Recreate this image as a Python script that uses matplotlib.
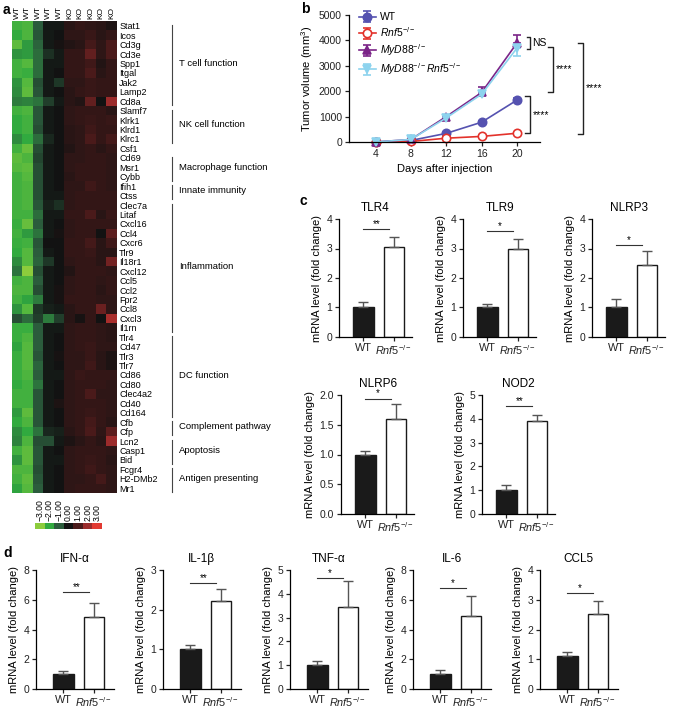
import numpy as np
import matplotlib
matplotlib.use("Agg")
import matplotlib.pyplot as plt
from matplotlib.colors import LinearSegmentedColormap

plt.rcParams["font.family"] = ["Liberation Sans", "DejaVu Sans"]
plt.rcParams["mathtext.fontset"] = "custom"
plt.rcParams["mathtext.rm"] = "Liberation Sans"
plt.rcParams["mathtext.it"] = "Liberation Sans:italic"
plt.rcParams["axes.linewidth"] = 0.9
plt.rcParams["xtick.major.width"] = 0.9
plt.rcParams["ytick.major.width"] = 0.9
plt.rcParams["xtick.major.size"] = 3
plt.rcParams["ytick.major.size"] = 3

# ---------------- panel a: heatmap ----------------
samples = ["WT"] * 5 + ["KO"] * 5
genes = ["Stat1", "Icos", "Cd3g", "Cd3e", "Spp1", "Itgal", "Jak2", "Lamp2", "Cd8a",
         "Slamf7", "Klrk1", "Klrd1", "Klrc1", "Csf1", "Cd69", "Msr1", "Cybb", "Ifih1",
         "Ctss", "Clec7a", "Litaf", "Cxcl16", "Ccl4", "Cxcr6", "Tlr9", "Il18r1", "Cxcl12",
         "Ccl5", "Ccl2", "Fpr2", "Ccl8", "Cxcl3", "Il1rn", "Tlr4", "Cd47", "Tlr3", "Tlr7",
         "Cd86", "Cd80", "Clec4a2", "Cd40", "Cd164", "Cfb", "Cfp", "Lcn2", "Casp1", "Bid",
         "Fcgr4", "H2-DMb2", "Mr1"]
expr = [
    [-2.2, -2.3, -1.0, -0.1, -0.1, 0.4, 0.6, 0.5, 0.4, 0.2],
    [-2.0, -2.3, -0.9, -0.1, 0.0, 0.5, 0.5, 0.7, 0.4, 0.6],
    [-2.5, -1.8, -1.1, -0.1, 0.1, 0.3, 0.4, 0.9, 0.5, 1.0],
    [-1.7, -1.8, -1.2, -0.4, -0.1, 0.6, 0.6, 1.3, 0.5, 1.0],
    [-2.2, -2.4, -1.2, -0.1, -0.1, 0.6, 0.6, 0.8, 0.3, 0.6],
    [-2.2, -2.1, -1.2, -0.1, 0.0, 0.6, 0.6, 1.0, 0.4, 0.6],
    [-1.7, -2.4, -0.8, -0.1, -0.5, 0.5, 0.5, 0.7, 0.6, 0.6],
    [-1.6, -2.5, -0.9, -0.1, 0.0, 0.4, 0.6, 0.7, 0.6, 0.6],
    [-1.4, -1.5, -1.3, -0.6, -0.1, 0.4, 0.3, 1.3, 0.0, 2.0],
    [-2.2, -2.3, -0.9, -0.1, 0.0, 0.5, 0.6, 0.6, 0.6, 0.4],
    [-2.0, -2.2, -0.9, -0.1, 0.0, 0.5, 0.6, 0.7, 0.6, 0.7],
    [-2.0, -2.2, -0.8, -0.1, 0.0, 0.4, 0.5, 0.8, 0.6, 0.6],
    [-1.6, -2.0, -1.2, -0.3, 0.0, 0.4, 0.5, 1.0, 0.6, 0.9],
    [-2.2, -2.6, -0.8, -0.1, 0.0, 0.3, 0.5, 0.6, 0.4, 0.6],
    [-2.5, -2.3, -0.7, -0.1, 0.0, 0.5, 0.5, 0.6, 0.6, 0.5],
    [-2.4, -2.5, -0.8, -0.1, 0.0, 0.5, 0.6, 0.6, 0.6, 0.5],
    [-2.2, -2.4, -0.8, -0.1, 0.0, 0.4, 0.6, 0.6, 0.6, 0.5],
    [-2.2, -2.3, -0.8, -0.1, 0.0, 0.5, 0.5, 0.8, 0.6, 0.5],
    [-2.2, -2.3, -0.8, -0.1, -0.1, 0.5, 0.6, 0.6, 0.6, 0.6],
    [-2.2, -2.3, -0.9, -0.2, -0.4, 0.5, 0.6, 0.6, 0.6, 0.6],
    [-2.2, -2.2, -1.2, -0.1, -0.1, 0.6, 0.6, 1.0, 0.4, 0.7],
    [-2.1, -2.6, -1.0, -0.1, 0.0, 0.5, 0.6, 0.6, 0.6, 0.6],
    [-2.2, -1.8, -1.3, -0.1, 0.1, 0.5, 0.6, 0.6, 0.0, 1.2],
    [-2.1, -2.2, -0.9, 0.0, 0.0, 0.6, 0.6, 0.9, 0.4, 0.8],
    [-2.0, -2.4, -1.0, -0.1, 0.0, 0.6, 0.6, 0.7, 0.4, 0.4],
    [-1.6, -2.4, -1.1, -0.5, 0.0, 0.5, 0.6, 0.6, 0.4, 1.5],
    [-1.3, -3.0, -0.8, -0.1, 0.0, 0.3, 0.6, 0.6, 0.6, 0.5],
    [-2.2, -2.3, -1.0, -0.1, 0.0, 0.5, 0.6, 0.6, 0.5, 0.6],
    [-2.3, -2.3, -0.8, -0.1, 0.1, 0.5, 0.6, 0.6, 0.4, 0.6],
    [-2.2, -1.9, -1.4, -0.1, 0.1, 0.6, 0.6, 0.6, 0.5, 0.5],
    [-1.7, -2.4, -0.5, -0.2, -0.1, 0.4, 0.6, 0.6, 1.4, 0.5],
    [-0.8, -1.2, -0.6, -1.4, -0.6, 0.4, 0.1, 0.6, 0.0, 2.2],
    [-2.1, -2.1, -1.0, -0.1, -0.1, 0.5, 0.6, 0.6, 0.5, 0.4],
    [-2.1, -2.3, -1.0, -0.1, 0.0, 0.5, 0.6, 0.6, 0.5, 0.4],
    [-1.9, -2.4, -1.0, -0.1, 0.0, 0.5, 0.6, 0.7, 0.5, 0.5],
    [-2.1, -2.4, -0.9, -0.1, 0.1, 0.5, 0.5, 0.7, 0.4, 0.2],
    [-2.1, -2.4, -1.1, -0.1, 0.0, 0.5, 0.5, 0.8, 0.4, 0.2],
    [-2.1, -2.3, -1.0, -0.1, -0.1, 0.5, 0.7, 0.6, 0.6, 0.6],
    [-2.0, -2.2, -1.3, -0.1, 0.0, 0.5, 0.6, 0.6, 0.6, 0.5],
    [-2.2, -2.2, -0.9, -0.1, 0.0, 0.5, 0.6, 1.0, 0.5, 0.5],
    [-2.2, -2.2, -0.9, -0.1, 0.2, 0.5, 0.6, 0.6, 0.6, 0.5],
    [-1.8, -2.5, -0.9, -0.1, 0.0, 0.5, 0.6, 0.7, 0.6, 0.5],
    [-2.0, -2.3, -0.9, -0.1, 0.0, 0.5, 0.6, 0.9, 0.6, 0.4],
    [-1.6, -2.0, -1.3, -0.3, -0.2, 0.4, 0.6, 1.0, 0.5, 1.2],
    [-1.5, -2.3, -0.8, -0.8, -0.1, 0.2, 0.4, 0.6, 0.4, 2.0],
    [-2.2, -2.5, -0.9, -0.1, 0.0, 0.5, 0.6, 0.6, 0.6, 0.5],
    [-1.7, -2.5, -0.9, -0.1, -0.1, 0.5, 0.6, 0.7, 0.6, 0.4],
    [-2.3, -2.3, -0.8, -0.1, 0.0, 0.5, 0.6, 0.8, 0.6, 0.5],
    [-2.2, -2.5, -0.9, -0.1, 0.0, 0.5, 0.5, 0.6, 0.9, 0.5],
    [-1.9, -2.4, -1.0, -0.1, 0.0, 0.5, 0.6, 0.6, 0.6, 0.5],
]
groups = [("T cell function", 0, 8), ("NK cell function", 9, 12),
          ("Macrophage function", 14, 16), ("Innate immunity", 17, 18),
          ("Inflammation", 19, 32), ("DC function", 33, 41),
          ("Complement pathway", 42, 43), ("Apoptosis", 44, 46),
          ("Antigen presenting", 47, 49)]
cbar_values = [-3, -2, -1, 0, 1, 2, 3]
cbar_colors = ["#8ccc3c", "#30aa40", "#2b5c3c", "#121212", "#4a1a1a", "#9b2b2b", "#e23a32"]

# ---------------- panel b: tumour growth ----------------
days = [4, 8, 12, 16, 20]
wt_vol = [0, 60, 340, 780, 1650]
wt_err = [0, 20, 40, 60, 80]
rnf5_vol = [0, 20, 150, 220, 345]
rnf5_err = [0, 10, 30, 40, 40]
myd88_vol = [0, 100, 1000, 1950, 3900]
myd88_err = [0, 30, 60, 200, 300]
dko_vol = [0, 100, 950, 1880, 3700]
dko_err = [0, 30, 60, 80, 300]

# ---------------- panel c / d: qPCR ----------------
c_titles = ["TLR4", "TLR9", "NLRP3", "NLRP6", "NOD2"]
c_wt = [1.0, 1.0, 1.0, 1.0, 1.0]
c_wt_err = [0.2, 0.13, 0.28, 0.06, 0.23]
c_ko = [3.05, 2.97, 2.43, 1.6, 3.9]
c_ko_err = [0.35, 0.35, 0.47, 0.25, 0.24]
c_stars = ["**", "*", "*", "*", "**"]
c_sig = [3.66, 3.6, 3.12, 1.94, 4.55]
c_ymax = [4, 4, 4, 2.0, 5]
c_ystep = [1, 1, 1, 0.5, 1]

d_titles = ["IFN-α", "IL-1β", "TNF-α", "IL-6", "CCL5"]
d_wt = [1.0, 1.0, 1.0, 1.0, 1.1]
d_wt_err = [0.2, 0.12, 0.18, 0.27, 0.13]
d_ko = [4.84, 2.23, 3.46, 4.94, 2.51]
d_ko_err = [0.93, 0.29, 1.07, 1.34, 0.45]
d_stars = ["**", "**", "*", "*", "*"]
d_sig = [6.5, 2.68, 4.67, 6.76, 3.24]
d_ymax = [8, 3, 5, 8, 4]
d_ystep = [2, 1, 1, 2, 1]

W, H = 674, 709
fig = plt.figure(figsize=(W / 100, H / 100), dpi=100)


def rect(x0, y0, x1, y1):
    return [x0 / W, 1 - y1 / H, (x1 - x0) / W, (y1 - y0) / H]


def style(ax):
    for s in ["top", "right"]:
        ax.spines[s].set_visible(False)
    ax.tick_params(labelsize=7.5, pad=2, colors="#222222")


rnf5_lbl = r"$\mathit{Rnf5}^{-/-}$"

# heatmap
cmap = LinearSegmentedColormap.from_list(
    "gk_r", [((v + 3) / 6, c) for v, c in zip(cbar_values, cbar_colors)])
ax = fig.add_axes(rect(12, 21, 117, 493))
ax.imshow(np.array(expr), cmap=cmap, vmin=-3, vmax=3, aspect="auto",
          interpolation="nearest")
ax.xaxis.tick_top()
ax.set_xticks(range(len(samples)))
ax.set_xticklabels(samples, rotation=90, fontsize=6)
ax.yaxis.tick_right()
ax.set_yticks(range(len(genes)))
ax.set_yticklabels(genes, fontsize=6.5)
ax.tick_params(length=0, pad=1.5)
for s in ax.spines.values():
    s.set_visible(False)
for name, r0, r1 in groups:
    ax.plot([14.7, 14.7], [r0 - 0.1, r1 + 0.4], color="#444444", lw=0.8, clip_on=False)
    ax.text(15.4, (r0 + r1) / 2, name, fontsize=6.8, va="center", ha="left")
ax.set_xlim(-0.5, len(samples) - 0.5)
ax.set_ylim(len(genes) - 0.5, -0.5)

cax = fig.add_axes(rect(35, 523, 102, 529))
cax.imshow(np.array([cbar_values]), cmap=cmap, vmin=-3, vmax=3, aspect="auto")
cax.xaxis.tick_top()
cax.set_xticks(range(len(cbar_values)))
cax.set_xticklabels([f"{v:.2f}".replace("-", "\u2212") for v in cbar_values],
                    rotation=90, fontsize=6.2)
cax.set_yticks([])
cax.tick_params(length=0, pad=1.5)
for s in cax.spines.values():
    s.set_visible(False)

# tumour growth
ax = fig.add_axes(rect(349, 15, 540, 142))
style(ax)
series = [
    ("WT", wt_vol, "o", "#5552b0", "#5552b0", [wt_err, wt_err]),
    (rnf5_lbl, rnf5_vol, "o", "#e3322b", "white", [rnf5_err, rnf5_err]),
    (r"$\mathit{MyD88}^{-/-}$", myd88_vol, "^", "#7b2588", "#7b2588",
     [[0] * 5, myd88_err]),
    (r"$\mathit{MyD88}^{-/-}\mathit{Rnf5}^{-/-}$", dko_vol, "v", "#8dd3ee",
     "#8dd3ee", [dko_err, [0] * 5]),
]
for lbl, vals, m, col, fc, yerr in series:
    ax.errorbar(days, vals, yerr=yerr, color=col, marker=m, mfc=fc, mec=col, ms=6,
                mew=1.2, lw=1.2, capsize=3, elinewidth=1.2, label=lbl, clip_on=False)
ax.set_xticks(days)
ax.set_yticks(range(0, 5001, 1000))
ax.set_xlabel("Days after injection", fontsize=8, labelpad=4)
ax.set_ylabel("Tumor volume (mm$^3$)", fontsize=8, labelpad=3)
ax.legend(loc="upper left", bbox_to_anchor=(0.03, 1.055), frameon=False, fontsize=7.5,
          handlelength=1.6, labelspacing=0.3, handletextpad=0.4, borderaxespad=0)


def bracket(ax, x, y0, y1, text, arm=0.6):
    ax.plot([x - arm, x, x, x - arm], [y1, y1, y0, y0], color="#222222", lw=1,
            clip_on=False)
    ax.text(x + 0.25, (y0 + y1) / 2, text, fontsize=7.5, va="center", ha="left")


bracket(ax, 21.5, dko_vol[-1] - 20, myd88_vol[-1] + 220, "NS", arm=0.4)
bracket(ax, 21.5, rnf5_vol[-1], wt_vol[-1] + 150, "****")
bracket(ax, 24.1, wt_vol[-1] + 320, dko_vol[-1] + 50, "****")
bracket(ax, 27.5, rnf5_vol[-1] - 15, myd88_vol[-1] - 20, "****")
ax.set_xlim(1, 22.6)
ax.set_ylim(0, 5000)


def bar_panel(x0, y0, y1, title, wt, wte, ko, koe, star, sig, ymax, ystep, xlim):
    ax = fig.add_axes(rect(x0, y0, x0 + 30.5 * (xlim[1] - xlim[0]), y1))
    style(ax)
    ax.bar([0, 1], [wt, ko], width=0.68, color=["#1a1a1a", "white"],
           edgecolor="#1a1a1a", linewidth=1)
    ax.errorbar([0, 1], [wt, ko], yerr=[[0, 0], [wte, koe]], fmt="none",
                ecolor="#555555", elinewidth=1, capsize=3.5, capthick=1)
    ax.plot([0, 0.85], [sig, sig], color="#333333", lw=0.8)
    ax.text(0.42, sig, star, ha="center", va="bottom", fontsize=7)
    ax.set_xlim(*xlim)
    ax.set_ylim(0, ymax)
    ax.set_yticks(np.arange(0, ymax + 1e-9, ystep))
    if ystep < 1:
        ax.set_yticklabels([f"{v:.1f}" for v in np.arange(0, ymax + 1e-9, ystep)])
    ax.set_xticks([0, 1])
    ax.set_xticklabels(["WT", rnf5_lbl], fontsize=7.8)
    ax.tick_params(axis="x", pad=1.5)
    ax.set_ylabel("mRNA level (fold change)", fontsize=8, labelpad=3)
    ax.set_title(title, fontsize=8.5, pad=6)


c_pos = [(339, 219, 337), (463, 219, 337), (592, 219, 337), (341, 395, 514), (482, 395, 514)]
for i, (x0, y0, y1) in enumerate(c_pos):
    bar_panel(x0, y0, y1, c_titles[i], c_wt[i], c_wt_err[i], c_ko[i], c_ko_err[i],
              c_stars[i], c_sig[i], c_ymax[i], c_ystep[i], (-0.8, 1.6))

d_x = [36, 163, 290, 413, 540]
for i, x0 in enumerate(d_x):
    bar_panel(x0, 570, 689, d_titles[i], d_wt[i], d_wt_err[i], d_ko[i], d_ko_err[i],
              d_stars[i], d_sig[i], d_ymax[i], d_ystep[i], (-0.9, 1.65))

for lbl, x, y in [("a", 3, 10), ("b", 301, 9), ("c", 300, 201), ("d", 3, 553)]:
    fig.text(x / W, 1 - y / H, lbl, fontsize=10, fontweight="bold", va="center")

fig.savefig("out.png", dpi=100)
